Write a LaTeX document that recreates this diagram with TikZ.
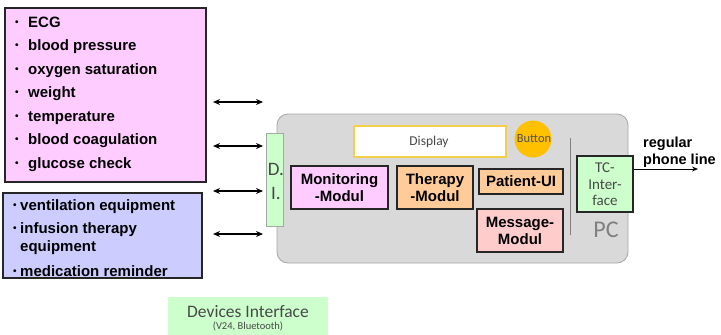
\documentclass[tikz,border=0pt]{standalone}
\usepackage{fontspec}
\setmainfont{Liberation Sans}
\newfontfamily\lightfont{Carlito}
\usetikzlibrary{arrows.meta}

\definecolor{pinkfill}{HTML}{FFCCFF}
\definecolor{bluefill}{HTML}{CCCCFF}
\definecolor{bodyfill}{HTML}{D9D9D9}
\definecolor{bodyline}{HTML}{A6A6A6}
\definecolor{greenfill}{HTML}{CCFFCC}
\definecolor{peachfill}{HTML}{FFCC99}
\definecolor{rosefill}{HTML}{FFCCCC}
\definecolor{gold}{HTML}{FFC000}
\definecolor{goldline}{HTML}{F2D04A}
\definecolor{darkline}{HTML}{262626}
\definecolor{lighttext}{HTML}{484848}

\newcommand{\dotmark}{\raisebox{1.8pt}{\fontsize{10}{10}\selectfont\textbullet}}

\tikzset{
  listbox/.style={draw=darkline, line width=1.1pt, inner sep=0pt},
  modbox/.style={draw=darkline, line width=1.1pt, inner sep=0pt, align=center,
    font=\fontsize{15}{17}\selectfont\bfseries},
  item/.style={anchor=base west, inner sep=0pt, font=\fontsize{15}{17}\selectfont\bfseries},
  thin/.style={inner sep=0pt, align=center, text=lighttext, font=\lightfont},
  link/.style={{Stealth[length=7pt,width=6pt]}-{Stealth[length=7pt,width=6pt]}, line width=1.2pt},
}

\begin{document}
\begin{tikzpicture}[x=1pt,y=-1pt]
\useasboundingbox (0,0) rectangle (721,335);

% sensor list
\node[listbox, fill=pinkfill, minimum width=201pt, minimum height=174pt] (vitals) at (105.5,95) {};
\foreach \n/\t [count=\i from 0] in {a/ECG, b/blood pressure, c/oxygen saturation, d/weight,
    e/temperature, f/blood coagulation, g/glucose check} {
  \node[item] (bul\n) at (15,{27+23.5*\i}) {\dotmark};
  \node[item] (txt\n) at (28,{27+23.5*\i}) {\t};
}

% equipment list
\node[listbox, fill=bluefill, minimum width=199pt, minimum height=85pt] (equip) at (102.5,235.5) {};
\node[item] (bula) at (13,210) {\dotmark};
\node[item] (eqa) at (20,210) {ventilation equipment};
\node[item] (bulb) at (13,233) {\dotmark};
\node[item] (eqb) at (20,233) {infusion therapy};
\node[item] (eqc) at (20,251) {equipment};
\node[item] (bulc) at (13,276) {\dotmark};
\node[item] (eqd) at (20,276) {medication reminder};

% link arrows
\foreach \y [count=\i] in {102,146,191,234} {
  \coordinate (la\i) at (213,\y);
  \coordinate (lb\i) at (263,\y);
  \draw[link] (la\i) -- (lb\i);
}

% PC body
\node[draw=bodyline, line width=0.8pt, fill=bodyfill, rounded corners=11pt,
  minimum width=351pt, minimum height=149pt, inner sep=0pt] (pc) at (452.5,188.5) {};

% devices interface strip
\node[draw=gray!70, line width=0.8pt, fill=greenfill, minimum width=17pt, minimum height=93pt, inner sep=0pt] (di) at (274.5,179.5) {};
\node[thin, font=\lightfont\fontsize{19}{24}\selectfont] (ditext) at (276,181) {D.\\I.};

% display and button
\node[draw=goldline, line width=1.2pt, fill=white, minimum width=152pt, minimum height=31pt, inner sep=0pt] (display) at (430,141.5) {};
\node[thin, font=\lightfont\fontsize{13.5}{15}\selectfont] (displaytext) at (429,142) {Display};
\node[circle, fill=gold, minimum size=37pt, inner sep=0pt] (button) at (533,139) {};
\node[thin, font=\lightfont\fontsize{12.5}{14}\selectfont, text=darkline!80] (buttontext) at (534,139) {Button};

% modules
\node[modbox, fill=pinkfill, minimum width=97pt, minimum height=43pt] (monitor) at (339.5,187.5) {Monitoring\\-Modul};
\node[modbox, fill=peachfill, minimum width=76pt, minimum height=43pt] (therapy) at (435,187.5) {Therapy\\-Modul};
\node[modbox, fill=peachfill, minimum width=84pt, minimum height=25pt] (patient) at (521,181.5) {Patient-UI};
\node[modbox, fill=rosefill, minimum width=86pt, minimum height=43pt] (message) at (520,230.5) {Message-\\Modul};

% separator
\coordinate (septop) at (570,138);
\coordinate (sepbot) at (570,235);
\draw[gray, line width=1pt] (septop) -- (sepbot);

% telecom interface
\node[draw=darkline, line width=1.1pt, fill=greenfill, minimum width=56pt, minimum height=56pt, inner sep=0pt] (tc) at (605,184) {};
\node[thin, font=\lightfont\fontsize{15}{16.5}\selectfont] (tctext) at (605,184.5) {TC-\\Inter-\\face};
\node[thin, font=\lightfont\fontsize{24}{26}\selectfont, text=gray] (pclabel) at (606,230) {PC};

% phone line
\coordinate (phone) at (698,169);
\draw[-{Stealth[length=6pt,width=5pt]}, line width=0.9pt] (tc.east |- phone) -- (phone);
\node[inner sep=0pt, anchor=base west, align=left, font=\fontsize{14.5}{17}\selectfont\bfseries] (phonetext) at (643,164) {regular\\phone line};

% devices interface legend
\node[fill=greenfill, minimum width=160pt, minimum height=40pt, inner sep=0pt, anchor=north west] (legend) at (168,297) {};
\node[thin, font=\lightfont\fontsize{17.5}{19}\selectfont] (legendtitle) at (248,312) {Devices Interface};
\node[thin, font=\lightfont\fontsize{10.5}{11}\selectfont] (legendsub) at (248,326) {(V24, Bluetooth)};
\end{tikzpicture}
\end{document}
